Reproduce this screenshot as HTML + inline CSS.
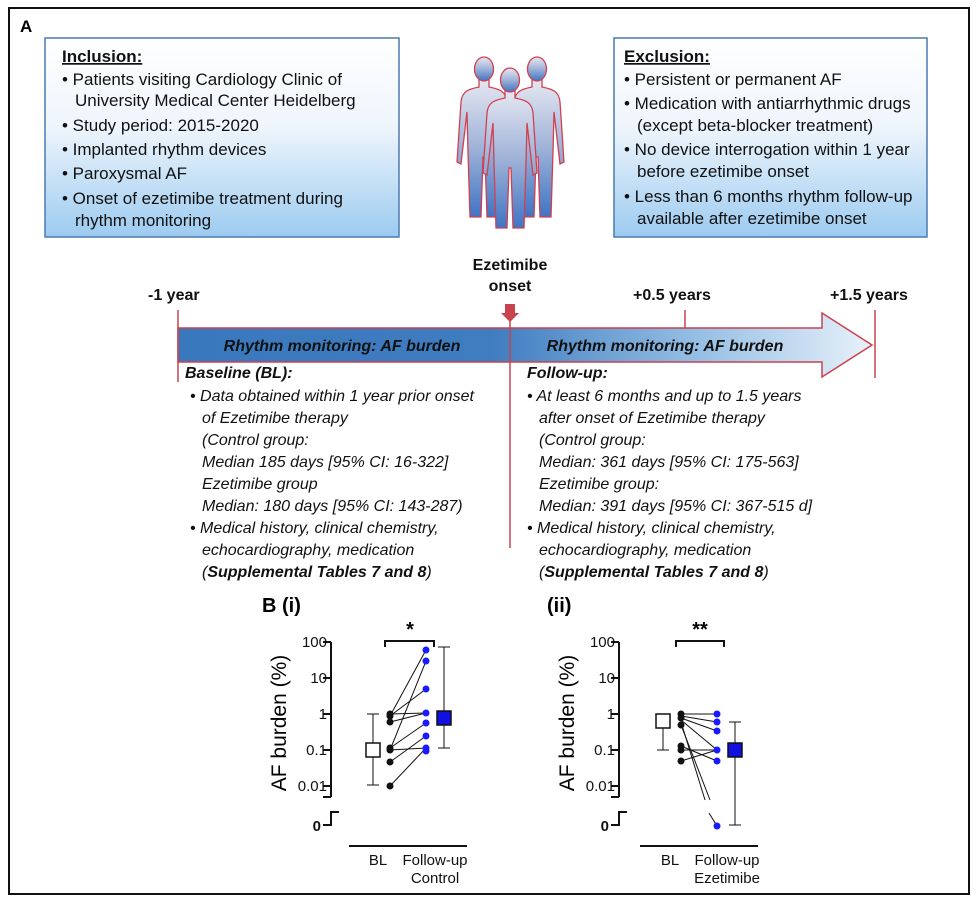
<!DOCTYPE html>
<html><head><meta charset="utf-8"><style>
html,body{margin:0;padding:0;background:#fff}
svg{display:block}
text{font-family:"Liberation Sans",Arial,sans-serif}
.bx{font-size:17px;fill:#111}
.it{font-size:16px;font-style:italic;fill:#111}
.tk{font-size:15px;fill:#111}
</style></head><body>
<svg width="977" height="901" viewBox="0 0 977 901" xmlns="http://www.w3.org/2000/svg">
<defs>
<linearGradient id="bg" x1="0" y1="0" x2="0" y2="1"><stop offset="0" stop-color="#ffffff"/><stop offset="0.45" stop-color="#eef5fc"/><stop offset="1" stop-color="#9ccbf0"/></linearGradient>
<linearGradient id="pg" x1="0" y1="0" x2="0" y2="1"><stop offset="0" stop-color="#e6e8f2"/><stop offset="0.5" stop-color="#9fb2d8"/><stop offset="1" stop-color="#3f74c4"/></linearGradient>
<linearGradient id="ar" x1="0" y1="0" x2="1" y2="0"><stop offset="0" stop-color="#3a78bd"/><stop offset="0.45" stop-color="#3f7cc0"/><stop offset="0.75" stop-color="#96bfe4"/><stop offset="1" stop-color="#e8f1fa"/></linearGradient>
<g id="person" fill="url(#pg)" stroke="#d2404f" stroke-width="1.3">
<path d="M-5,22 L-5,30 C-15,32 -22,34 -23,45 L-27,105 L-23,107 L-17,55 L-16,95 L-14,160 L-3,160 L-1,100 L1,100 L3,160 L14,160 L16,95 L17,55 L23,107 L27,105 L23,45 C22,34 15,32 5,30 L5,22 Z"/>
<ellipse cx="0" cy="12" rx="9.5" ry="12"/>
</g>
</defs>
<rect x="9" y="8" width="960" height="886" fill="#fff" stroke="#111" stroke-width="2"/>
<text x="20" y="32" font-size="17" font-weight="bold">A</text>
<rect x="45" y="38" width="354" height="199" fill="url(#bg)" stroke="#4a7ab0" stroke-width="1.5"/>
<text class="bx" x="62" y="62" font-weight="bold" text-decoration="underline">Inclusion:</text>
<text class="bx" x="62" y="85">• Patients visiting Cardiology Clinic of</text>
<text class="bx" x="75" y="106">University Medical Center Heidelberg</text>
<text class="bx" x="62" y="131">• Study period: 2015-2020</text>
<text class="bx" x="62" y="155">• Implanted rhythm devices</text>
<text class="bx" x="62" y="179">• Paroxysmal AF</text>
<text class="bx" x="62" y="204">• Onset of ezetimibe treatment during</text>
<text class="bx" x="75" y="226">rhythm monitoring</text>
<use href="#person" transform="translate(484,57)"/>
<use href="#person" transform="translate(537,57)"/>
<use href="#person" transform="translate(510,68)"/>
<rect x="614" y="38" width="313" height="199" fill="url(#bg)" stroke="#4a7ab0" stroke-width="1.5"/>
<text class="bx" x="624" y="62" font-weight="bold" text-decoration="underline">Exclusion:</text>
<text class="bx" x="624" y="85">• Persistent or permanent AF</text>
<text class="bx" x="624" y="109">• Medication with antiarrhythmic drugs</text>
<text class="bx" x="637" y="131">(except beta-blocker treatment)</text>
<text class="bx" x="624" y="155">• No device interrogation within 1 year</text>
<text class="bx" x="637" y="177">before ezetimibe onset</text>
<text class="bx" x="624" y="202">• Less than 6 months rhythm follow-up</text>
<text class="bx" x="637" y="224">available after ezetimibe onset</text>
<g font-weight="bold" font-size="16" fill="#111">
<text x="510" y="270" text-anchor="middle">Ezetimibe</text>
<text x="510" y="291" text-anchor="middle">onset</text>
<text x="148" y="300">-1 year</text>
<text x="633" y="300">+0.5 years</text>
<text x="830" y="300">+1.5 years</text>
</g>
<path d="M178,328 L822,328 L822,313 L872,345 L822,377 L822,362 L178,362 Z" fill="url(#ar)" stroke="#c9434f" stroke-width="1.5"/>
<g stroke="#c9434f" stroke-width="1.5">
<line x1="178" y1="310" x2="178" y2="382"/>
<line x1="875" y1="310" x2="875" y2="378"/>
<line x1="685" y1="310" x2="685" y2="328"/>
<line x1="510" y1="318" x2="510" y2="548"/>
</g>
<path d="M505,304 L515,304 L515,313 L519,313 L510,322 L501,313 L505,313 Z" fill="#c9434f"/>
<text x="342" y="351" text-anchor="middle" font-size="16" font-weight="bold" font-style="italic" fill="#111">Rhythm monitoring: AF burden</text>
<text x="665" y="351" text-anchor="middle" font-size="16" font-weight="bold" font-style="italic" fill="#111">Rhythm monitoring: AF burden</text>
<text class="it" x="185" y="378" font-weight="bold">Baseline (BL):</text>
<text class="it" x="190" y="401">• Data obtained within 1 year prior onset</text>
<text class="it" x="202" y="423">of Ezetimibe therapy</text>
<text class="it" x="202" y="445">(Control group:</text>
<text class="it" x="202" y="467">Median 185 days [95% CI: 16-322]</text>
<text class="it" x="202" y="489">Ezetimibe group</text>
<text class="it" x="202" y="511">Median: 180 days [95% CI: 143-287)</text>
<text class="it" x="190" y="533">• Medical history, clinical chemistry,</text>
<text class="it" x="202" y="555">echocardiography, medication</text>
<text class="it" x="202" y="577">(<tspan font-weight="bold">Supplemental Tables 7 and 8</tspan>)</text>
<text class="it" x="527" y="378" font-weight="bold">Follow-up:</text>
<text class="it" x="527" y="401">• At least 6 months and up to 1.5 years</text>
<text class="it" x="539" y="423">after onset of Ezetimibe therapy</text>
<text class="it" x="539" y="445">(Control group:</text>
<text class="it" x="539" y="467">Median: 361 days [95% CI: 175-563]</text>
<text class="it" x="539" y="489">Ezetimibe group:</text>
<text class="it" x="539" y="511">Median: 391 days [95% CI: 367-515 d]</text>
<text class="it" x="527" y="533">• Medical history, clinical chemistry,</text>
<text class="it" x="539" y="555">echocardiography, medication</text>
<text class="it" x="539" y="577">(<tspan font-weight="bold">Supplemental Tables 7 and 8</tspan>)</text>
<text x="262" y="612" font-size="20" font-weight="bold">B (i)</text>
<text x="547" y="612" font-size="20" font-weight="bold">(ii)</text>
<g stroke="#111" stroke-width="2" fill="none">
<path d="M331,642 V797 M323,642 H331 M323,678 H331 M323,714 H331 M323,750 H331 M323,786 H331 M323,797 H331"/>
<path d="M339,812 H331 V825 H323"/>
<line x1="349" y1="846" x2="467" y2="846"/>
<path d="M385,647 V641 H434 V647"/>
<path d="M619,642 V797 M611,642 H619 M611,678 H619 M611,714 H619 M611,750 H619 M611,786 H619 M611,797 H619"/>
<path d="M627,812 H619 V825 H611"/>
<line x1="640" y1="846" x2="758" y2="846"/>
<path d="M676,647 V641 H724 V647"/>
</g>
<g class="tk" text-anchor="end">
<text x="327" y="647">100</text><text x="327" y="683">10</text><text x="327" y="719">1</text><text x="327" y="755">0.1</text><text x="327" y="791">0.01</text><text x="321" y="831" font-weight="bold">0</text>
<text x="615" y="647">100</text><text x="615" y="683">10</text><text x="615" y="719">1</text><text x="615" y="755">0.1</text><text x="615" y="791">0.01</text><text x="609" y="831" font-weight="bold">0</text>
</g>
<text transform="translate(286,723) rotate(-90)" text-anchor="middle" font-size="21">AF burden (%)</text>
<text transform="translate(574,723) rotate(-90)" text-anchor="middle" font-size="21">AF burden (%)</text>
<text x="410" y="636" text-anchor="middle" font-size="20" font-weight="bold">*</text>
<text x="700" y="636" text-anchor="middle" font-size="20" font-weight="bold">**</text>
<g class="tk" text-anchor="middle">
<text x="378" y="865">BL</text><text x="435" y="865">Follow-up</text><text x="435" y="883">Control</text>
<text x="670" y="865">BL</text><text x="727" y="865">Follow-up</text><text x="727" y="883">Ezetimibe</text>
</g>
<g stroke="#111" stroke-width="1">
<path d="M373,714 V785 M367,714 H379 M367,785 H379"/>
<path d="M444,647 V748 M438,647 H450 M438,748 H450"/>
<line x1="390" y1="786" x2="426" y2="748"/>
<line x1="390" y1="762" x2="426" y2="736"/>
<line x1="390" y1="750" x2="426" y2="748"/>
<line x1="390" y1="748" x2="426" y2="723"/>
<line x1="390" y1="750" x2="426" y2="661"/>
<line x1="390" y1="722" x2="426" y2="713"/>
<line x1="390" y1="716" x2="426" y2="689"/>
<line x1="390" y1="714" x2="426" y2="713"/>
<line x1="390" y1="716" x2="426" y2="650"/>
</g>
<rect x="366" y="743" width="14" height="14" fill="#fff" stroke="#111" stroke-width="1.5"/>
<rect x="437" y="711" width="14" height="14" fill="#1010e0" stroke="#111" stroke-width="1.5"/>
<g fill="#111"><circle cx="390" cy="786" r="3.5"/><circle cx="390" cy="762" r="3.5"/><circle cx="390" cy="750" r="3.5"/><circle cx="390" cy="748" r="3.5"/><circle cx="390" cy="722" r="3.5"/><circle cx="390" cy="716" r="3.5"/><circle cx="390" cy="714" r="3.5"/></g>
<g fill="#1a1aff"><circle cx="426" cy="650" r="3.5"/><circle cx="426" cy="661" r="3.5"/><circle cx="426" cy="689" r="3.5"/><circle cx="426" cy="713" r="3.5"/><circle cx="426" cy="723" r="3.5"/><circle cx="426" cy="736" r="3.5"/><circle cx="426" cy="748" r="3.5"/><circle cx="426" cy="751" r="3.5"/></g>
<g stroke="#111" stroke-width="1">
<path d="M663,721 V750 M657,750 H669"/>
<path d="M735,722 V825 M729,722 H741 M729,825 H741"/>
<line x1="681" y1="714" x2="717" y2="714"/>
<line x1="681" y1="716" x2="717" y2="722"/>
<line x1="681" y1="718" x2="717" y2="731"/>
<line x1="681" y1="720" x2="717" y2="750"/>
<line x1="681" y1="725" x2="710" y2="800"/>
<line x1="681" y1="722" x2="705" y2="800"/>
<line x1="709" y1="813" x2="717" y2="826"/>
<line x1="681" y1="746" x2="717" y2="761"/>
<line x1="681" y1="750" x2="717" y2="750"/>
<line x1="681" y1="761" x2="717" y2="750"/>
</g>
<rect x="656" y="714" width="14" height="14" fill="#fff" stroke="#111" stroke-width="1.5"/>
<rect x="728" y="743" width="14" height="14" fill="#1010e0" stroke="#111" stroke-width="1.5"/>
<g fill="#111"><circle cx="681" cy="714" r="3.5"/><circle cx="681" cy="718" r="3.5"/><circle cx="681" cy="725" r="3.5"/><circle cx="681" cy="746" r="3.5"/><circle cx="681" cy="750" r="3.5"/><circle cx="681" cy="761" r="3.5"/></g>
<g fill="#1a1aff"><circle cx="717" cy="714" r="3.5"/><circle cx="717" cy="722" r="3.5"/><circle cx="717" cy="731" r="3.5"/><circle cx="717" cy="750" r="3.5"/><circle cx="717" cy="761" r="3.5"/><circle cx="717" cy="826" r="3.5"/></g>
</svg>
</body></html>
